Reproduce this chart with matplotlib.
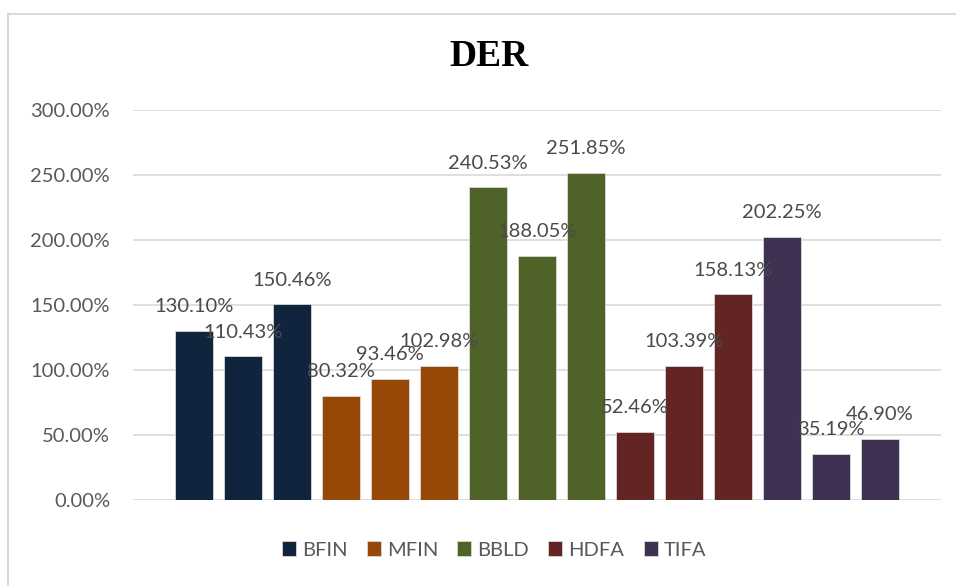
import matplotlib.pyplot as plt
from matplotlib.lines import Line2D
import numpy as np

companies = ['BFIN', 'MFIN', 'BBLD', 'HDFA', 'TIFA']
der_values = {
    'BFIN': [130.10, 110.43, 150.46],
    'MFIN': [80.32, 93.46, 102.98],
    'BBLD': [240.53, 188.05, 251.85],
    'HDFA': [52.46, 103.39, 158.13],
    'TIFA': [202.25, 35.19, 46.90],
}
colors = ['#10243E', '#974706', '#4F6228', '#632523', '#3F3151']
y_ticks = [0, 50, 100, 150, 200, 250, 300]

fig = plt.figure(figsize=(9.56, 5.86), dpi=100)
ax = fig.add_axes([133/956, 86/586, 808/956, 390/586])

font = 'Lato'
grey = '#595959'
fs = 14.5

pos = 0
for comp, col in zip(companies, colors):
    vals = der_values[comp]
    xs = np.arange(pos, pos + len(vals))
    ax.bar(xs, vals, width=0.78, color=col, edgecolor='#d9d9d9', linewidth=0.6, label=comp, zorder=3)
    for x, v in zip(xs, vals):
        ax.annotate('{:.2f}%'.format(v), (x, v), xytext=(0, 17.5), textcoords='offset points',
                    ha='center', va='center', fontsize=fs, color='#4a4a4a', family=font, zorder=4)
    pos += len(vals)

ax.set_xlim(-1.25, pos - 1 + 1.25)
ax.set_ylim(0, 300)
ax.set_yticks(y_ticks)
ax.set_yticklabels(['{:.2f}%'.format(t) for t in y_ticks], fontsize=fs, color=grey, family=font)
ax.set_xticks([])
ax.tick_params(axis='y', length=0, pad=16.5)
ax.grid(axis='y', color='#d9d9d9', linewidth=1.2, zorder=0)
for s in ax.spines.values():
    s.set_visible(False)

fig.text(489/956, 1 - 56/586, 'DER', ha='center', va='center', fontsize=27,
         fontweight='bold', family='Liberation Serif', color='black')

leg = fig.legend(loc='center', bbox_to_anchor=(494/956, 1 - 550/586), ncol=5, frameon=False,
                 handlelength=0.7, handleheight=0.7, handletextpad=0.3, columnspacing=0.95,
                 prop={'family': font, 'size': fs})
for t in leg.get_texts():
    t.set_color(grey)

# chart border (only left and top visible in the crop)
fig.add_artist(Line2D([8/956, 8/956], [0, 1 - 14/586], color='#d9d9d9', linewidth=1.5, transform=fig.transFigure))
fig.add_artist(Line2D([8/956, 1], [1 - 14/586, 1 - 14/586], color='#d9d9d9', linewidth=1.5, transform=fig.transFigure))

fig.savefig('out.png', dpi=100)
